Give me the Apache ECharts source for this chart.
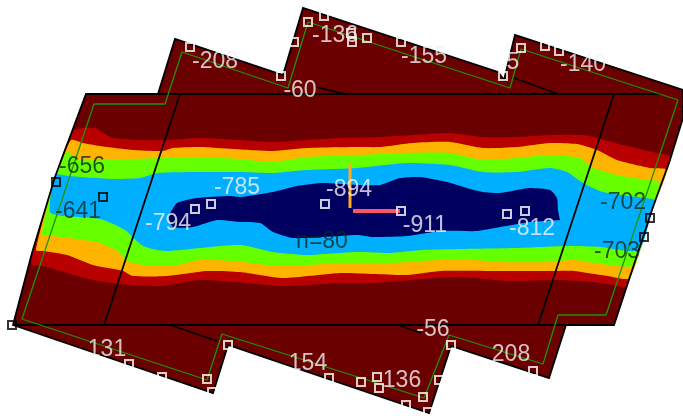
<!DOCTYPE html>
<html><head><meta charset="utf-8">
<style>html,body{margin:0;padding:0;background:#fff}#c{width:683px;height:416px;filter:blur(0.35px)}</style>
<script src="https://cdn.jsdelivr.net/npm/echarts@6/dist/echarts.min.js"></script>
</head><body><div id="c"></div>
<script>
// map coordinates
const outline=[[86,94],[158,94],[175,39],[283,75],[303,8],[498,72],[504,80],[515,35],[683,90],[683,118],[670,160],[653,207],[614,325],[566,325],[549,378],[451,346],[429,413],[228,345],[213,393],[13,325],[32,253],[55,177]];
const redTop=[[32,253],[55,177],[73,131],[95,128],[105,134],[113,138],[140,140],[167,140],[200,138],[240,140],[273,142],[307,140],[340,138],[380,137],[413,135],[450,133],[483,137],[517,137],[550,135],[583,135],[597,138],[623,145],[657,153],[671,157],[653,207]];
const redBottom=[[32,265],[43,266],[67,273],[93,280],[120,284],[160,286],[200,280],[233,282],[283,286],[307,285],[341,283],[374,283],[424,279],[460,277],[508,281],[558,280],[591,282],[614,285],[626,287]];
const orangeTop=[[55,177],[71,140],[83,143],[100,146],[133,150],[163,151],[173,148],[200,147],[233,149],[273,151],[307,148],[357,147],[380,147],[413,143],[450,142],[483,148],[517,147],[550,143],[577,144],[597,150],[617,160],[650,168],[667,170],[653,207]];
const orangeBottom=[[36,250],[43,251],[67,255],[93,265],[123,271],[133,276],[167,276],[207,271],[240,272],[283,278],[340,273],[374,274],[407,275],[441,271],[498,271],[558,271],[574,271],[608,276],[630,278]];
const greenTop=[[55,177],[67,152],[80,160],[130,159],[163,158],[197,157],[240,159],[273,162],[307,157],[357,155],[407,153],[450,153],[483,160],[517,158],[550,155],[580,158],[593,168],[617,175],[647,180],[660,182],[653,207]];
const greenBottom=[[42,235],[53,236],[77,239],[100,243],[117,251],[127,261],[150,266],[177,265],[200,260],[233,261],[267,265],[293,266],[340,263],[390,263],[460,259],[500,262],[550,262],[573,260],[608,265],[634,265]];
const blueTop=[[55,175],[68,176],[113,179],[140,178],[158,173],[197,172],[240,172],[273,173],[307,170],[357,168],[407,163],[450,165],[483,172],[517,172],[550,168],[567,172],[583,183],[603,192],[656,200],[653,207]];
const blueBottom=[[50,212],[63,216],[100,219],[125,230],[143,246],[165,251],[200,248],[240,245],[273,252],[307,255],[357,252],[390,253],[423,250],[460,249],[517,248],[567,246],[600,247],[639,250]];
const navyTop=[[168,217],[177,203],[197,198],[230,196],[240,197],[273,192],[297,186],[323,183],[357,185],[380,185],[400,178],[420,177],[447,182],[467,188],[483,192],[500,193],[517,190],[530,188],[550,190],[557,198],[558,210],[560,220]];
const navyBottom=[[168,217],[173,227],[193,227],[217,220],[240,222],[260,223],[273,232],[293,238],[323,237],[357,235],[373,237],[407,236],[441,231],[477,231],[500,227],[530,222],[560,220]];
const greenRoute=[[94,104],[165,104],[182,52],[288,88],[308,22],[510,88],[521,49],[678,100],[606,315],[558,315],[543,364],[449,335],[424,398],[222,334],[207,380],[22,319],[94,104]];
const gridLines=[
  [[86,94],[660,94]],[[15,325],[612,325]],[[180,94],[104,325]],[[614,94],[538,325]],
  [[316,87],[345,94]],[[514,78],[558,94]],[[170,325],[217,341]],[[398,325],[421,333]]
];
const axisOrange=[[350,163],[350,208]];
const axisSalmon=[[353,211],[400,211]];
const whiteSquares=[[190,47],[281,76],[294,42],[308,22],[324,16],[351,33],[352,42],[367,38],[401,42],[503,76],[521,48],[545,46],[559,51],[195,209],[211,204],[325,204],[401,211],[507,214],[525,211],[129,364],[162,377],[207,379],[212,392],[228,345],[329,378],[361,382],[377,377],[379,388],[439,380],[423,397],[406,405],[428,412],[451,345],[533,371]];
const blackSquares=[[56,182],[103,197],[650,218],[644,237],[12,325]];
const whiteLabels=[[215,62,'-208'],[335,36,'-136'],[300,91,'-60'],[424,57,'-155'],[513,63,'5'],[583,65,'-140'],[237,188,'-785'],[349,190,'-894'],[168,224,'-794'],[425,226,'-911'],[532,229,'-812'],[107,350,'131'],[308,364,'154'],[402,381,'136'],[433,330,'-56'],[511,355,'208']];
const darkLabels=[[82,167,'-656'],[78,212,'-641'],[322,242,'n=80'],[623,203,'-702'],[617,252,'-703']];

const layers=[
  {pts:outline,fill:'#6b0000'},
  {pts:redTop.concat(redBottom.slice().reverse()),fill:'#b80000',smooth:0.2},
  {pts:orangeTop.concat(orangeBottom.slice().reverse()),fill:'#ffb400',smooth:0.2},
  {pts:greenTop.concat(greenBottom.slice().reverse()),fill:'#66ff00',smooth:0.2},
  {pts:blueTop.concat(blueBottom.slice().reverse()),fill:'#00b0ff',smooth:0.2},
  {pts:navyTop.concat(navyBottom.slice().reverse()),fill:'#000060',smooth:0.2},
  {pts:outline,fill:'none',stroke:'#000',lw:1.8}
];
function lineSeries(data,color,width){
  return {type:'line',data:data,showSymbol:false,silent:true,clip:false,animation:false,
    lineStyle:{color:color,width:width},z:5};
}
function labelSeries(data,color){
  return {type:'scatter',data:data,symbolSize:1,itemStyle:{color:'rgba(0,0,0,0)'},clip:false,z:10,
    label:{show:true,position:'inside',formatter:p=>p.value[2],color:color,
      fontFamily:'Liberation Sans',fontSize:23,align:'center',verticalAlign:'middle'}};
}
function squareSeries(data,color){
  return {type:'scatter',data:data,symbol:'rect',symbolSize:8,clip:false,z:8,
    itemStyle:{color:'rgba(0,0,0,0)',borderColor:color,borderWidth:2}};
}
const chart=echarts.init(document.getElementById('c'),null,{renderer:'canvas'});
chart.setOption({
  animation:false,
  grid:{left:0,right:0,top:0,bottom:0},
  xAxis:{type:'value',min:0,max:683,show:false},
  yAxis:{type:'value',min:0,max:416,inverse:true,show:false},
  series:[
    {type:'custom',clip:false,z:1,coordinateSystem:'cartesian2d',
      data:layers.map((l,i)=>[i]),
      renderItem:(params,api)=>{
        const l=layers[params.dataIndex];
        return {type:'polygon',shape:{points:l.pts.map(p=>api.coord(p)),smooth:l.smooth||0},
          style:{fill:l.fill==='none'?null:l.fill,stroke:l.stroke||null,lineWidth:l.lw||0}};
      }},
    ...gridLines.map(g=>lineSeries(g,'#000',1.8)),
    lineSeries(greenRoute,'#1f9400',1.3),
    lineSeries(axisOrange,'#ffaa22',3),
    lineSeries(axisSalmon,'#ff5566',4),
    squareSeries(whiteSquares,'#fff'),
    squareSeries(blackSquares,'#000'),
    labelSeries(whiteLabels,'#f4f0f4'),
    labelSeries(darkLabels,'#0c2a24')
  ]
});
</script></body></html>
